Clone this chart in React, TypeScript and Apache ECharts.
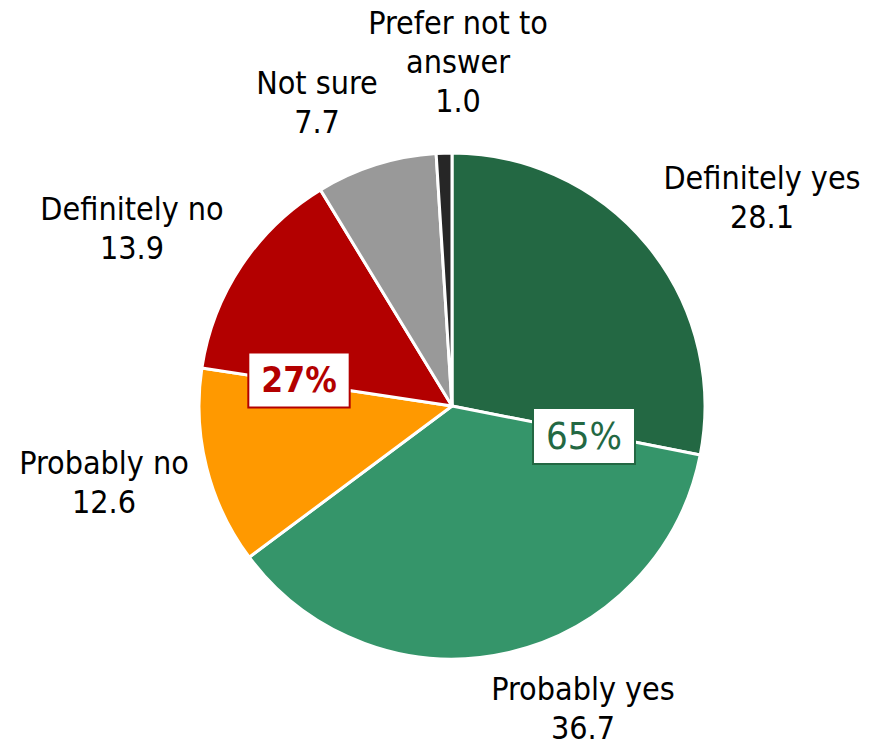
import React, { useEffect, useRef } from "react";
import * as echarts from "echarts";

const categories = ["Definitely yes", "Probably yes", "Probably no", "Definitely no", "Not sure", "Prefer not to\nanswer"];
const values = [28.1, 36.7, 12.6, 13.9, 7.7, 1.0];
const colors = ["#236843", "#35956A", "#FF9900", "#B30000", "#999999", "#262626"];
// label anchor points (layout, not data)
const labelPos = [
  [762, 197],
  [583, 708],
  [104, 482],
  [132, 228],
  [317, 102],
  [458, 62],
];

export default function App() {
  const ref = useRef<HTMLDivElement>(null);
  useEffect(() => {
    document.body.style.margin = "0";
    const chart = echarts.init(ref.current!, null, { renderer: "svg" });
    const yesTotal = Math.round(values[0] + values[1]);
    const noTotal = Math.round(values[2] + values[3]);
    const font = "DejaVu Sans Condensed";
    chart.setOption({
      animation: false,
      backgroundColor: "#ffffff",
      series: [
        {
          type: "pie",
          center: [452, 406],
          radius: 253,
          startAngle: 90,
          clockwise: true,
          avoidLabelOverlap: false,
          itemStyle: { borderColor: "#ffffff", borderWidth: 3 },
          label: {
            show: true,
            position: "outside",
            formatter: (p: any) => `${p.name}\n${p.value.toFixed(1)}`,
            fontFamily: font,
            fontSize: 32,
            lineHeight: 39,
            color: "#000000",
            align: "center",
          },
          labelLine: { show: false },
          labelLayout: (p: any) => {
            const pos = labelPos[p.dataIndex];
            return { x: pos[0], y: pos[1], align: "center", verticalAlign: "middle" };
          },
          data: categories.map((c, i) => ({ name: c, value: values[i], itemStyle: { color: colors[i] } })),
        },
      ],
      graphic: [
        {
          type: "text",
          z: 100,
          x: 299,
          y: 380,
          style: {
            text: `${noTotal}%`,
            fontFamily: font,
            fontSize: 35,
            fontWeight: "bold",
            fill: "#B30000",
            align: "center",
            verticalAlign: "middle",
            backgroundColor: "#ffffff",
            borderColor: "#B30000",
            borderWidth: 2,
            padding: [10, 12, 8, 12],
          },
        },
        {
          type: "text",
          z: 100,
          x: 584,
          y: 436,
          style: {
            text: `${yesTotal}%`,
            fontFamily: font,
            fontSize: 38,
            fontWeight: "normal",
            fill: "#236843",
            align: "center",
            verticalAlign: "middle",
            backgroundColor: "#ffffff",
            borderColor: "#236843",
            borderWidth: 2,
            padding: [9, 12, 7, 12],
          },
        },
      ],
    });
    return () => chart.dispose();
  }, []);
  return <div ref={ref} style={{ width: 871, height: 747 }} />;
}
